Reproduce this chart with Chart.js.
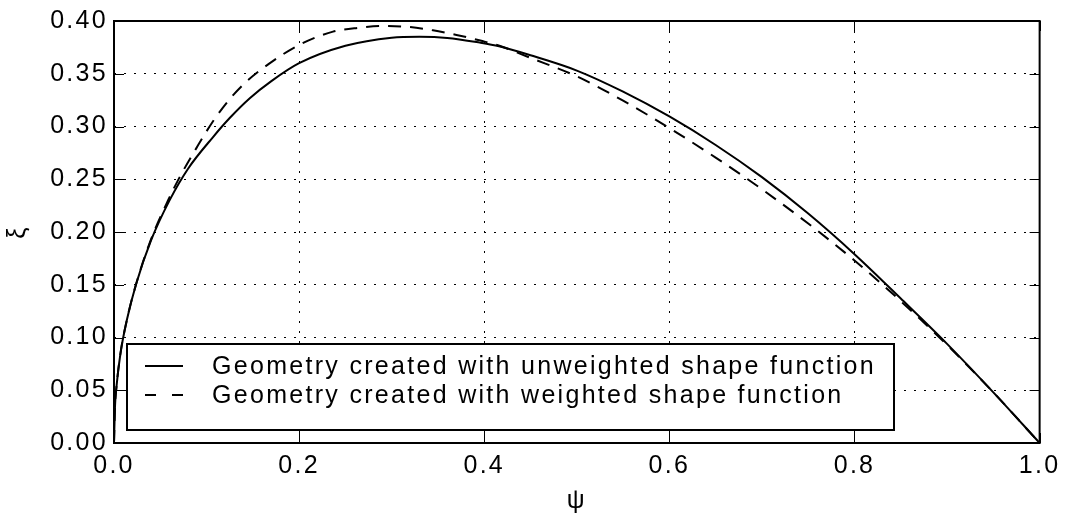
<!DOCTYPE html>
<html>
<head>
<meta charset="utf-8">
<script src="https://cdn.jsdelivr.net/npm/chart.js@4.4.1/dist/chart.umd.min.js"></script>
<style>
  html, body { margin: 0; padding: 0; background: #fff; }
  #wrap { width: 1065px; height: 515px; }
</style>
</head>
<body>
<div id="wrap"><canvas id="myChart"></canvas></div>
<script>
// psi / xi values
const psiUnweighted = [0, 0.001, 0.003, 0.007, 0.014, 0.024, 0.04, 0.06, 0.08, 0.107, 0.125, 0.147, 0.17, 0.2, 0.25, 0.3, 0.33, 0.36, 0.395, 0.416, 0.45, 0.5, 0.55, 0.6, 0.65, 0.7, 0.75, 0.8, 0.85, 0.9, 0.95, 1.0];
const xiUnweighted  = [0, 0.033, 0.056, 0.085, 0.117, 0.151, 0.192, 0.230, 0.260, 0.290, 0.308, 0.327, 0.343, 0.360, 0.3765, 0.3842, 0.3851, 0.3840, 0.3795, 0.376, 0.3675, 0.353, 0.333, 0.3095, 0.2825, 0.252, 0.2175, 0.179, 0.137, 0.094, 0.048, 0];

const psiWeighted = [0, 0.001, 0.003, 0.007, 0.014, 0.024, 0.04, 0.0586, 0.0712, 0.09, 0.107, 0.125, 0.143, 0.17, 0.2, 0.2366, 0.265, 0.2905, 0.32, 0.3445, 0.37, 0.398, 0.4164, 0.45, 0.5, 0.55, 0.6, 0.65, 0.7, 0.75, 0.8, 0.85, 0.9, 0.95, 1.0];
const xiWeighted  = [0, 0.033, 0.056, 0.085, 0.117, 0.151, 0.193, 0.2303, 0.2524, 0.281, 0.305, 0.326, 0.3425, 0.361, 0.3773, 0.3899, 0.3936, 0.3953, 0.3942, 0.3912, 0.3868, 0.381, 0.3765, 0.365, 0.3475, 0.3245, 0.2985, 0.2705, 0.2405, 0.208, 0.173, 0.1345, 0.093, 0.048, 0];

const seriesLabels = ['Geometry created with unweighted shape function', 'Geometry created with weighted shape function'];
const xTicks = [0, 0.2, 0.4, 0.6, 0.8, 1.0];
const yTicks = [0, 0.05, 0.10, 0.15, 0.20, 0.25, 0.30, 0.35, 0.40];

const FONT = "'Liberation Sans', Arial, Helvetica, sans-serif";
const FSIZE = 25;
const SPACING = '2.3px';

function toPoints(xs, ys) {
    return xs.map((x, i) => ({ x: x, y: ys[i] }));
}

// letter spacing like the old matplotlib output
const spacingPlugin = {
    id: 'spacing',
    beforeDraw(chart) { chart.ctx.letterSpacing = SPACING; }
};

// frame, inward ticks and the legend box inside the plot
const framePlugin = {
    id: 'frame',
    afterDatasetsDraw(chart) {
        const ctx = chart.ctx;
        const a = chart.chartArea;
        const xs = chart.scales.x, ys = chart.scales.y;
        ctx.save();
        ctx.strokeStyle = '#000';
        ctx.lineWidth = 1;
        const tl = 10;
        ctx.beginPath();
        xTicks.forEach(v => {
            const px = Math.round(xs.getPixelForValue(v)) + 0.5;
            ctx.moveTo(px, a.bottom); ctx.lineTo(px, a.bottom - tl);
            ctx.moveTo(px, a.top); ctx.lineTo(px, a.top + tl);
        });
        yTicks.forEach(v => {
            const py = Math.round(ys.getPixelForValue(v)) + 0.5;
            ctx.moveTo(a.left, py); ctx.lineTo(a.left + tl, py);
            ctx.moveTo(a.right, py); ctx.lineTo(a.right - tl, py);
        });
        ctx.stroke();

        // legend
        const bx = a.left + 13, by = a.bottom - 99, bw = 767, bh = 86;
        ctx.fillStyle = '#fff';
        ctx.fillRect(bx, by, bw, bh);
        ctx.lineWidth = 2;
        ctx.strokeRect(bx, by, bw, bh);
        ctx.font = FSIZE + 'px ' + FONT;
        ctx.letterSpacing = SPACING;
        ctx.fillStyle = '#000';
        ctx.textBaseline = 'middle';
        ctx.textAlign = 'left';
        const rows = [by + 22, by + 51];
        chart.data.datasets.forEach((ds, i) => {
            ctx.lineWidth = 2;
            ctx.setLineDash(i === 0 ? [] : [11, 16]);
            ctx.beginPath();
            ctx.moveTo(bx + 18, rows[i]);
            ctx.lineTo(bx + 56, rows[i]);
            ctx.stroke();
            ctx.setLineDash([]);
            ctx.fillText(ds.label, bx + 85, rows[i] + 1);
        });

        // frame
        ctx.lineWidth = 2;
        ctx.strokeRect(a.left, a.top, a.right - a.left, a.bottom - a.top);
        ctx.restore();
    }
};

const ctx = document.getElementById('myChart').getContext('2d');
const myChart = new Chart(ctx, {
    type: 'scatter',
    data: {
        datasets: [{
            label: seriesLabels[0],
            data: toPoints(psiUnweighted, xiUnweighted),
            showLine: true,
            borderColor: '#000',
            borderWidth: 2,
            pointRadius: 0,
            cubicInterpolationMode: 'monotone'
        }, {
            label: seriesLabels[1],
            data: toPoints(psiWeighted, xiWeighted),
            showLine: true,
            borderColor: '#000',
            borderWidth: 2,
            borderDash: [13, 9],
            pointRadius: 0,
            cubicInterpolationMode: 'monotone'
        }]
    },
    options: {
        responsive: true,
        maintainAspectRatio: false,
        animation: false,
        layout: { padding: { top: 21, right: 24, left: 0, bottom: 0 } },
        plugins: {
            legend: { display: false },
            tooltip: { enabled: false }
        },
        scales: {
            x: {
                type: 'linear',
                min: 0,
                max: 1,
                afterFit(scale) { scale.height = 72; },
                afterBuildTicks(scale) { scale.ticks = xTicks.map(v => ({ value: v })); },
                grid: {
                    color: '#000',
                    lineWidth: 1,
                    drawTicks: false
                },
                border: { display: false, dash: [2, 8] },
                ticks: {
                    color: '#000',
                    padding: 8,
                    maxRotation: 0,
                    font: { family: FONT, size: FSIZE },
                    callback: v => v.toFixed(1)
                },
                title: {
                    display: true,
                    text: 'ψ',
                    color: '#000',
                    font: { family: FONT, size: FSIZE },
                    padding: { top: 0, bottom: -1 }
                }
            },
            y: {
                type: 'linear',
                min: 0,
                max: 0.4,
                afterFit(scale) { scale.width = 114; },
                afterBuildTicks(scale) { scale.ticks = yTicks.map(v => ({ value: v })); },
                grid: {
                    color: '#000',
                    lineWidth: 1,
                    drawTicks: false
                },
                border: { display: false, dash: [2, 8] },
                ticks: {
                    color: '#000',
                    padding: 6,
                    font: { family: FONT, size: FSIZE },
                    callback: v => v.toFixed(2)
                },
                title: {
                    display: true,
                    text: 'ξ',
                    color: '#000',
                    font: { family: FONT, size: FSIZE },
                    padding: { top: 3, bottom: 0 }
                }
            }
        }
    },
    plugins: [spacingPlugin, framePlugin]
});
</script>
</body>
</html>
